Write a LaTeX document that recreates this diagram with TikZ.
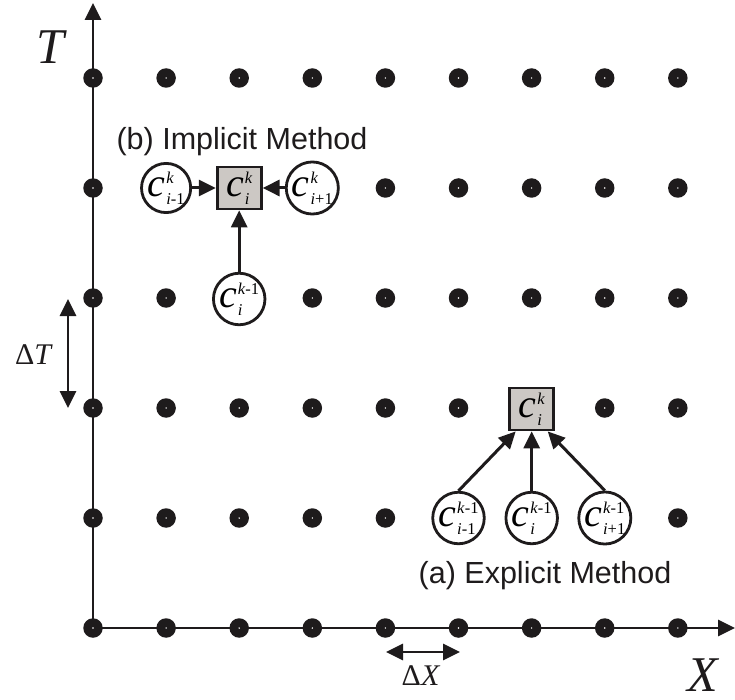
\documentclass[tikz,border=0pt]{standalone}
\usepackage{fontspec}
\setmainfont{Liberation Serif}
\newfontfamily\sansf{Liberation Sans}
\usetikzlibrary{arrows.meta}
\definecolor{ink}{RGB}{30,27,28}
\definecolor{boxfill}{RGB}{204,200,196}
\newcommand\cvar[2]{{\fontsize{40}{40}\selectfont\itshape c}\kern1pt\ooalign{\raisebox{13pt}{\fontsize{16.5}{16.5}\selectfont #1}\cr\raisebox{-8pt}{\fontsize{16.5}{16.5}\selectfont #2}}}
\tikzset{
  gdot/.style={circle,fill=ink,minimum size=19.5pt,inner sep=0pt,
    path picture={\fill[white] (path picture bounding box.center) circle (0.8pt);}},
  cnode/.style={circle,draw=ink,line width=2.8pt,fill=white,minimum size=47pt,inner sep=0pt},
  snode/.style={rectangle,draw=ink,line width=2.8pt,fill=boxfill,minimum width=44pt,minimum height=42pt,inner sep=0pt},
  conn/.style={draw=ink,line width=3pt,-{Triangle[length=17pt,width=16pt]}},
  axis/.style={draw=ink,line width=2.8pt,-{Triangle[length=17pt,width=16pt]}},
  dbl/.style={draw=ink,line width=2.8pt,{Triangle[length=17pt,width=16pt]}-{Triangle[length=17pt,width=16pt]}},
  sanslabel/.style={text=ink,font=\sansf\fontsize{30.5}{30.5}\selectfont,inner sep=0pt},
  serlabel/.style={text=ink,inner sep=0pt},
}
\begin{document}
\begin{tikzpicture}[x=1pt,y=-1pt]
\useasboundingbox (0,0) rectangle (735,700);
% axes
\coordinate (org) at (93,628);
\coordinate (xtip) at (735,628);
\coordinate (ytip) at (93,3);
\draw[axis] (org) -- (xtip);
\draw[axis] (org) -- (ytip);
% grid dots
\foreach \i in {0,...,8} \node[gdot] (d\i-0) at ({93+73.1*\i},628) {};
\foreach \i in {0,1,2,3,4,8} \node[gdot] (d\i-1) at ({93+73.1*\i},518) {};
\foreach \i in {0,1,2,3,4,5,7,8} \node[gdot] (d\i-2) at ({93+73.1*\i},408) {};
\foreach \i in {0,1,3,4,5,6,7,8} \node[gdot] (d\i-3) at ({93+73.1*\i},298) {};
\foreach \i in {0,4,5,6,7,8} \node[gdot] (d\i-4) at ({93+73.1*\i},188) {};
\foreach \i in {0,...,8} \node[gdot] (d\i-5) at ({93+73.1*\i},78) {};
% implicit method
\node[snode] (isq) at (239.2,188) {\cvar{\textit{k}}{\textit{i}}};
\node[cnode] (il) at (166.1,188) {\cvar{\textit{k}}{\textit{i}-1}};
\node[cnode] (ir) at (312.3,188) {\cvar{\textit{k}}{\textit{i}+1}};
\node[cnode] (ib) at (239.2,299) {\cvar{\textit{k}-1}{\textit{i}}};
\draw[conn] (il) -- (isq);
\draw[conn] (ir) -- (isq);
\draw[conn] (ib) -- (isq);
\node[sanslabel,anchor=base] (ilab) at (242,150) {(b) Implicit Method};
% explicit method
\node[snode] (esq) at (531.7,409) {\cvar{\textit{k}}{\textit{i}}};
\node[cnode] (el) at (458.5,518) {\cvar{\textit{k}-1}{\textit{i}-1}};
\node[cnode] (em) at (531.7,518) {\cvar{\textit{k}-1}{\textit{i}}};
\node[cnode] (er) at (604.8,518) {\cvar{\textit{k}-1}{\textit{i}+1}};
\draw[conn] (el.north) -- ([xshift=-16pt]esq.south);
\draw[conn] (em.north) -- (esq.south);
\draw[conn] (er.north) -- ([xshift=16pt]esq.south);
\node[sanslabel,anchor=base] (elab) at (545,583) {(a) Explicit Method};
% axis labels
\node[serlabel,font=\fontsize{50}{50}\selectfont] (tlab) at (52,47) {\textit{T}};
\node[serlabel,font=\fontsize{50}{50}\selectfont] (xlab) at (704,675) {\textit{X}};
% Delta T
\coordinate (dta) at (68,299);
\coordinate (dtb) at (68,408);
\draw[dbl] (dta) -- (dtb);
\node[serlabel,font=\fontsize{30}{30}\selectfont] (dtlab) at (34,355) {Δ\textit{T}};
% Delta X
\coordinate (dxa) at (386,652);
\coordinate (dxb) at (460,652);
\draw[dbl] (dxa) -- (dxb);
\node[serlabel,font=\fontsize{30}{30}\selectfont] (dxlab) at (421,676) {Δ\textit{X}};
\end{tikzpicture}
\end{document}
